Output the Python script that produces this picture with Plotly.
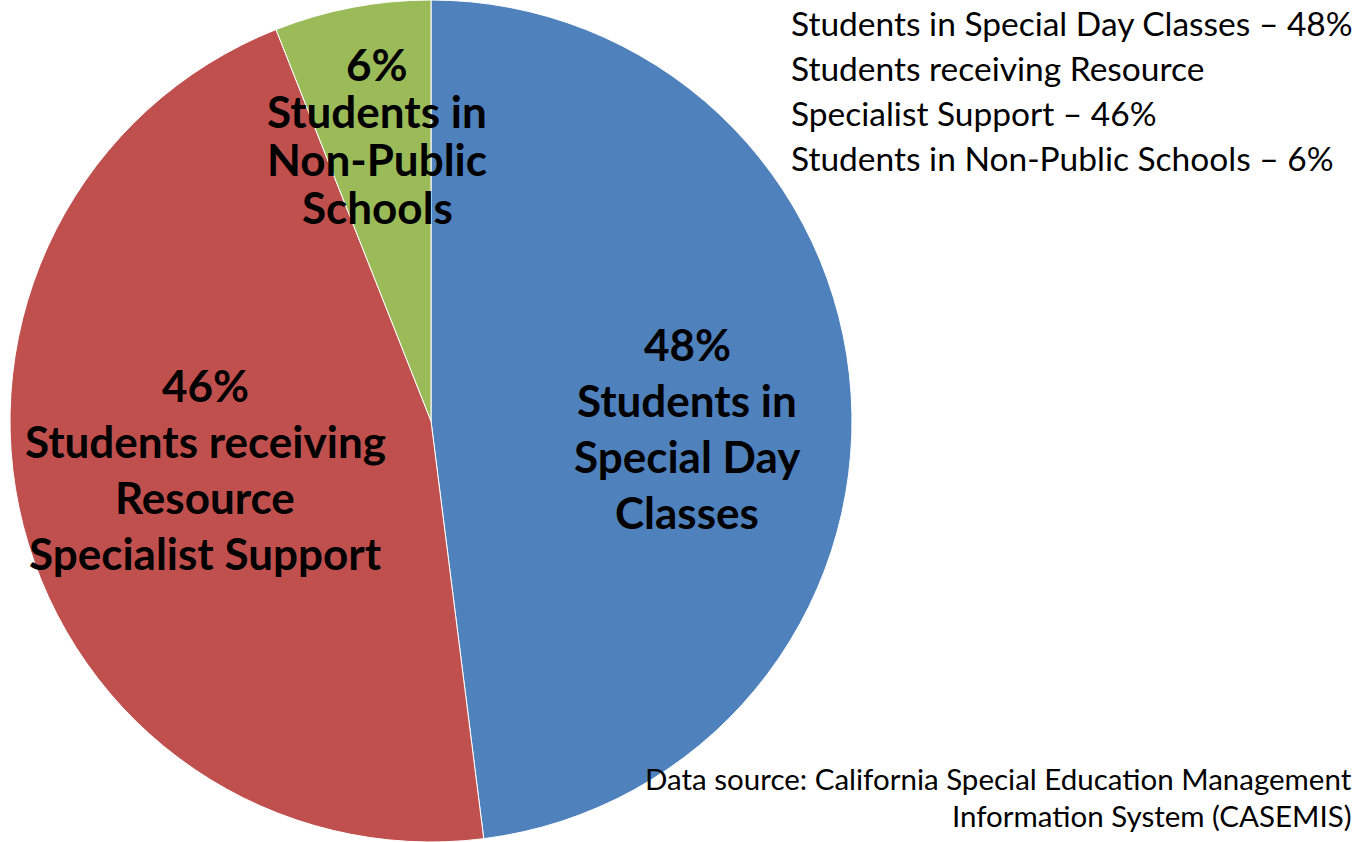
import plotly.graph_objects as go

# ---- data ----
categories = ["Students in Special Day Classes",
              "Students receiving Resource Specialist Support",
              "Students in Non-Public Schools"]
values = [48, 46, 6]
colors = ["#4F81BD", "#C0504D", "#9BBB59"]
label_lines = [["Students in", "Special Day", "Classes"],
               ["Students receiving", "Resource", "Specialist Support"],
               ["Students in", "Non-Public", "Schools"]]
legend_lines = ["Students in Special Day Classes \u2013 48%",
                "Students receiving Resource",
                "Specialist Support \u2013 46%",
                "Students in Non-Public Schools \u2013 6%"]
source_lines = ["Data source: California Special Education Management",
                "Information System (CASEMIS)"]

# ---- layout settings ----
W, H = 1359, 842
FONT = "Lato, Open Sans, sans-serif"
label_pos = [  # center x, first line y, line spacing (px)
    (687, 344, 56),
    (205, 385, 56),
    (377, 64, 47.5),
]

fig = go.Figure(go.Pie(
    labels=categories, values=values, sort=False, direction="clockwise",
    rotation=0, textinfo="none", hoverinfo="label+percent",
    marker=dict(colors=colors, line=dict(color="white", width=1)),
    domain=dict(x=[10 / W, 852 / W], y=[0, 1]),
    showlegend=False,
))

ann = []
for (cx, y0, dy), v, lines in zip(label_pos, values, label_lines):
    for i, t in enumerate([f"{v}%"] + lines):
        ann.append(dict(x=cx / W, y=1 - (y0 + i * dy) / H, xref="paper", yref="paper",
                        text=f"<b>{t}</b>", showarrow=False, xanchor="center", yanchor="middle",
                        font=dict(family=FONT, size=44, color="black")))
for i, t in enumerate(legend_lines):
    ann.append(dict(x=789 / W, y=1 - (23 + i * 45) / H, xref="paper", yref="paper",
                    text=t, showarrow=False, xanchor="left", yanchor="middle",
                    font=dict(family=FONT, size=33.5, color="black")))
for i, t in enumerate(source_lines):
    ann.append(dict(x=1354 / W, y=1 - (778 + i * 37) / H, xref="paper", yref="paper",
                    text=t, showarrow=False, xanchor="right", yanchor="middle",
                    font=dict(family=FONT, size=29.5, color="black")))

fig.update_layout(width=W, height=H, margin=dict(l=0, r=0, t=0, b=0),
                  paper_bgcolor="white", plot_bgcolor="white", annotations=ann)
fig.write_html("out.html", config={"displayModeBar": False},
               post_script="document.body.style.margin='0';")
